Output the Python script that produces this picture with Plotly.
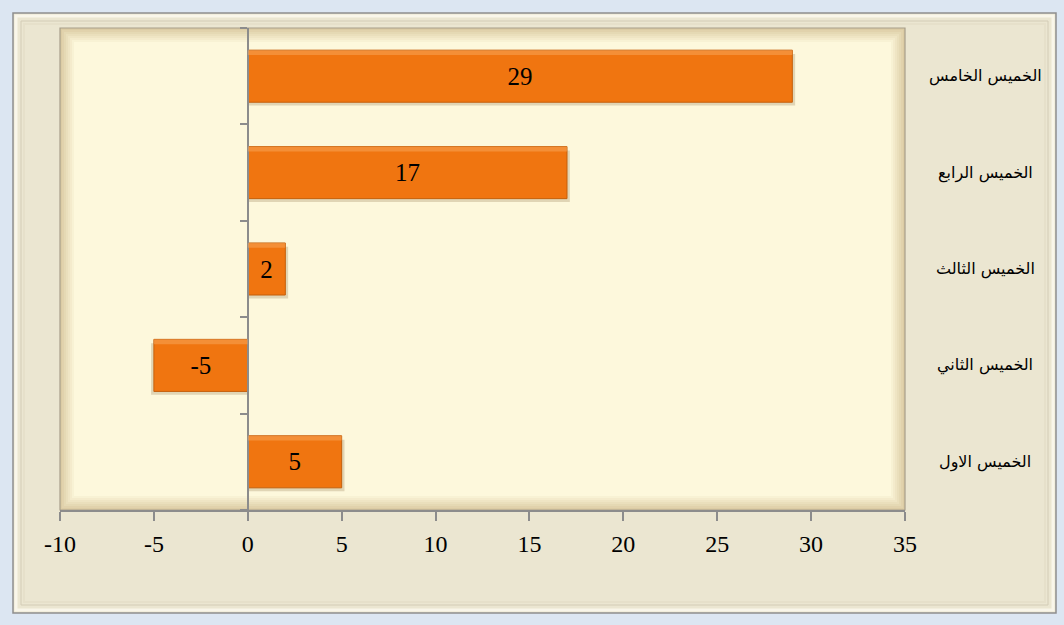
import plotly.graph_objects as go

# Weekly values, bottom to top
categories = ["الخميس الاول", "الخميس الثاني", "الخميس الثالث", "الخميس الرابع", "الخميس الخامس"]
values = [5, -5, 2, 17, 29]
x_ticks = [-10, -5, 0, 5, 10, 15, 20, 25, 30, 35]

W, H = 1064, 625
L, R, T, B = 60, 159, 28, 115
PW, PH = W - L - R, H - T - B
BAR_W = 0.54


def px(x):
    return (x - L) / PW


def py(y):
    return 1 - (y - T) / PH


def frame(x0, y0, x1, y1, fill=None, line=None, width=0, layer="below"):
    return dict(type="rect", xref="paper", yref="paper",
                x0=px(x0), x1=px(x1), y0=py(y1), y1=py(y0),
                fillcolor=fill or "rgba(0,0,0,0)",
                line=dict(color=line or "rgba(0,0,0,0)", width=width),
                layer=layer)


def mix(c1, c2, t):
    a = [int(c1[i:i + 2], 16) for i in (1, 3, 5)]
    b = [int(c2[i:i + 2], 16) for i in (1, 3, 5)]
    return "#" + "".join(f"{round(a[k] + (b[k] - a[k]) * t):02x}" for k in range(3))


shapes = []
# outer chart panel with a bevelled rim
shapes.append(frame(13, 13, 1056, 613, fill="#ebe6d1", line="#8e8e8e", width=1.5))
shapes.append(frame(16, 16, 1053, 610, line="#f9f6ea", width=3))
shapes.append(frame(21, 21, 1048, 605, line="#d3ccb6", width=1))
shapes.append(frame(24, 24, 1045, 602, line="#e6e0ca", width=2))

# plot area: bevelled cream panel
steps = 8
for i in range(steps):
    t = i / (steps - 1)
    inset = i * 2
    shapes.append(frame(L + inset, T + inset, L + PW - inset, T + PH - inset,
                        fill=mix("#dccca4", "#fdf8dc", t)))
shapes.append(frame(L, T, L + PW, T + PH, line="#a79e8a", width=1.2))

# soft drop shadow and top highlight on each bar
for i, v in enumerate(values):
    shapes.append(dict(type="rect", xref="x", yref="y",
                       x0=0, x1=v + (0.15 if v >= 0 else -0.15),
                       y0=i - BAR_W / 2 - 0.035, y1=i + BAR_W / 2 - 0.04,
                       fillcolor="#8a6a40", opacity=0.25,
                       line=dict(width=0), layer="below"))
    shapes.append(dict(type="rect", xref="x", yref="y",
                       x0=0, x1=v, y0=i + BAR_W / 2 - 0.05, y1=i + BAR_W / 2,
                       fillcolor="#f7a457", line=dict(width=0), layer="above",
                       opacity=0.55))

fig = go.Figure()

fig.add_trace(go.Bar(
    x=values,
    y=list(range(len(categories))),
    orientation="h",
    width=BAR_W,
    marker=dict(color="#f07510", line=dict(color="#c4600c", width=1)),
    text=[str(v) for v in values],
    textposition="inside",
    insidetextanchor="middle",
    textangle=0,
    constraintext="none",
    textfont=dict(family="Liberation Serif", size=25, color="#000000"),
    hoverinfo="skip",
))

# category names to the right of the plot area
annotations = []
for i, name in enumerate(categories):
    annotations.append(dict(
        x=px(985), xref="paper", y=i, yref="y",
        text=name, showarrow=False, xanchor="center", yanchor="middle",
        font=dict(family="DejaVu Sans", size=16, color="#000000"),
    ))

fig.update_layout(
    width=W, height=H,
    margin=dict(l=L, r=R, t=T, b=B),
    paper_bgcolor="#dce6f2",
    plot_bgcolor="rgba(0,0,0,0)",
    showlegend=False,
    shapes=shapes,
    annotations=annotations,
    xaxis=dict(
        range=[-10, 35],
        tickvals=x_ticks,
        ticktext=[str(t) for t in x_ticks],
        ticks="outside", ticklen=9, tickwidth=1.5, tickcolor="#8c8c8c",
        showline=True, linecolor="#8c8c8c", linewidth=1.5,
        showgrid=False, zeroline=False,
        ticklabelstandoff=2,
        tickfont=dict(family="Liberation Serif", size=24, color="#000000"),
    ),
    yaxis=dict(
        range=[-0.5, len(categories) - 0.5],
        tickvals=[i - 0.5 for i in range(len(categories) + 1)],
        ticktext=[""] * (len(categories) + 1),
        ticks="outside", ticklen=7, tickwidth=1.5, tickcolor="#8c8c8c",
        showline=True, linecolor="#8c8c8c", linewidth=1.5,
        showgrid=False, zeroline=False,
        anchor="free", position=10 / 45,
    ),
)

fig.write_html("out.html")
